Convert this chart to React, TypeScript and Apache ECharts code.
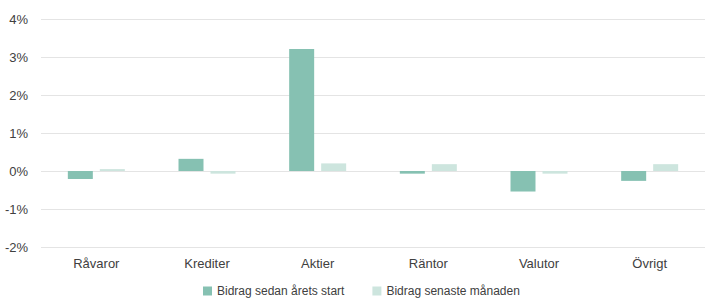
import React, { useEffect, useRef } from "react";
import * as echarts from "echarts";

const categories = ["Råvaror", "Krediter", "Aktier", "Räntor", "Valutor", "Övrigt"];
const seriesNames = ["Bidrag sedan årets start", "Bidrag senaste månaden"];
const ytdValues = [-0.21, 0.32, 3.21, -0.07, -0.54, -0.26];
const monthValues = [0.05, -0.07, 0.2, 0.18, -0.07, 0.18];
const yMin = -2;
const yMax = 4;
const yInterval = 1;

export default function App() {
  const ref = useRef<HTMLDivElement>(null);
  useEffect(() => {
    if (!ref.current) return;
    const chart = echarts.init(ref.current, undefined, { renderer: "svg" });
    const font = "'Liberation Sans', Arial, Helvetica, sans-serif";
    chart.setOption({
      animation: false,
      backgroundColor: "#ffffff",
      textStyle: { fontFamily: font },
      grid: { left: 41, right: -6, top: 19, bottom: 53, containLabel: false },
      legend: {
        data: seriesNames,
        top: 285,
        left: 203,
        padding: 0,
        itemWidth: 9,
        itemHeight: 9,
        itemGap: 28,
        icon: "rect",
        textStyle: { fontSize: 12, color: "#404040", fontFamily: font },
      },
      xAxis: {
        type: "category",
        data: categories,
        axisLine: { show: false },
        axisTick: { show: false },
        axisLabel: { color: "#404040", fontSize: 13, margin: 10, fontFamily: font },
      },
      yAxis: {
        type: "value",
        min: yMin,
        max: yMax,
        interval: yInterval,
        axisLine: { show: false },
        axisTick: { show: false },
        axisLabel: {
          formatter: "{value}%",
          color: "#404040",
          fontSize: 13,
          margin: 13,
          fontFamily: font,
        },
        splitLine: { lineStyle: { color: "#e4e4e4", width: 1.2 } },
      },
      series: [
        {
          name: seriesNames[0],
          type: "bar",
          data: ytdValues,
          barWidth: 25,
          barGap: "28%",
          itemStyle: { color: "#86c1b2" },
        },
        {
          name: seriesNames[1],
          type: "bar",
          data: monthValues,
          barWidth: 25,
          itemStyle: { color: "#cde5de" },
        },
      ],
    });
    return () => chart.dispose();
  }, []);
  return (
    <div
      ref={ref}
      style={{ position: "absolute", left: 0, top: 0, width: 705, height: 300 }}
    />
  );
}
